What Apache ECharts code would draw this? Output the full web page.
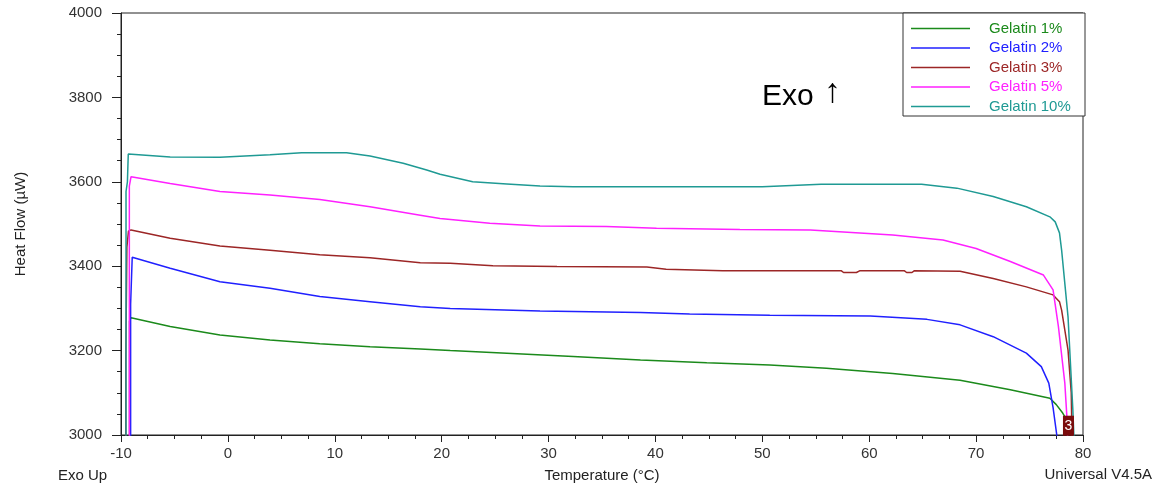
<!DOCTYPE html>
<html>
<head>
<meta charset="utf-8">
<title>Heat Flow vs Temperature</title>
<script src="https://cdn.jsdelivr.net/npm/echarts@6/dist/echarts.min.js"></script>
<style>
  html, body { margin: 0; padding: 0; background: #ffffff; }
  #chart { width: 1156px; height: 486px; }
</style>
</head>
<body>
<div id="chart"></div>
<script>
// DSC heat-flow traces for gelatin gels (temperature in °C, heat flow in µW)
const seriesNames = ['Gelatin 1%', 'Gelatin 2%', 'Gelatin 3%', 'Gelatin 5%', 'Gelatin 10%'];
const seriesColors = ['#1b8a1b', '#2020ff', '#9c2626', '#ff20ff', '#1f9a94'];

const tempGel1 = [-9.2, -9.2, -9.06, -5.4, -0.74, 3.94, 8.6, 13.3, 18.0, 20.8, 26.1, 32.3, 38.6, 44.8, 50.7, 56.0, 62.2, 68.5, 73.2, 76.9, 77.5, 78.1, 78.5, 78.7];
const flowGel1 = [2900, 3270, 3278, 3257, 3237, 3225, 3216, 3209, 3204, 3200, 3194, 3186, 3178, 3171, 3166, 3158, 3146, 3130, 3107, 3087, 3072, 3052, 3035, 2950];

const tempGel2 = [-9.1, -9.1, -8.95, -5.4, -0.74, 3.94, 8.6, 13.3, 18.0, 20.8, 29.2, 38.6, 43.2, 50.7, 60.1, 65.4, 68.5, 71.6, 74.7, 76.1, 76.8, 77.2, 77.6, 77.7];
const flowGel2 = [2900, 3310, 3421, 3395, 3363, 3348, 3328, 3316, 3304, 3300, 3294, 3290, 3287, 3284, 3282, 3274, 3261, 3233, 3194, 3162, 3123, 3065, 2990, 2950];

const tempGel3 = [-9.55, -9.55, -9.45, -9.3, -9.06, -5.4, -0.74, 3.94, 8.6, 13.3, 18.0, 20.8, 24.8, 30.8, 39.2, 41.0, 46.3, 50.0, 57.4, 57.6, 58.8, 59.1, 63.3, 63.5, 64.0, 64.2, 68.5, 71.6, 74.7, 77.2, 77.8, 78.0, 78.6, 78.9, 79.0];
const flowGel3 = [2900, 3180, 3445, 3483, 3486, 3466, 3448, 3438, 3427, 3420, 3408, 3407, 3401, 3399, 3398, 3393, 3389, 3389, 3389, 3385, 3385, 3389, 3389, 3385, 3385, 3389, 3388, 3371, 3351, 3332, 3316, 3296, 3201, 3100, 2950];

const tempGel5 = [-9.22, -9.22, -9.06, -5.4, -0.74, 3.94, 8.6, 13.3, 18.0, 19.85, 24.5, 29.2, 35.4, 40.1, 47.9, 54.5, 62.2, 66.9, 70.0, 73.2, 76.3, 77.2, 77.7, 78.3, 78.5, 78.6];
const flowGel5 = [2900, 3590, 3612, 3596, 3577, 3569, 3558, 3541, 3521, 3513, 3502, 3495, 3494, 3490, 3487, 3486, 3474, 3462, 3442, 3411, 3379, 3344, 3257, 3123, 3040, 2950];

const tempGel10 = [-9.53, -9.53, -9.4, -9.32, -5.4, -0.74, 3.94, 6.9, 11.1, 13.3, 16.4, 18.6, 19.85, 22.9, 26.1, 29.2, 32.3, 50.0, 55.5, 64.9, 68.2, 71.6, 74.7, 76.9, 77.4, 77.8, 78.0, 78.6, 79.05, 79.3];
const flowGel10 = [2900, 3577, 3600, 3666, 3659, 3658, 3664, 3669, 3669, 3661, 3644, 3628, 3618, 3600, 3595, 3590, 3588, 3588, 3594, 3594, 3585, 3565, 3541, 3517, 3505, 3479, 3438, 3280, 3060, 2900];

// Event marker "3" placed at the end of the 3% trace
const markerTemp = 78.64;
const markerFlow = 3022;
const markerText = '3';

const xTicks = { min: -10, max: 80, interval: 10 };
const yTicks = { min: 3000, max: 4000, interval: 200 };

const temps = [tempGel1, tempGel2, tempGel3, tempGel5, tempGel10];
const flows = [flowGel1, flowGel2, flowGel3, flowGel5, flowGel10];

const FONT = '"Liberation Sans", Arial, sans-serif';

const series = seriesNames.map((name, i) => {
  const s = {
    name: name,
    type: 'line',
    symbol: 'none',
    clip: true,
    smooth: false,
    data: temps[i].map((t, k) => [t, flows[i][k]]),
    lineStyle: { color: seriesColors[i], width: 1.5 },
    itemStyle: { color: seriesColors[i] },
    z: 2
  };
  if (name === 'Gelatin 3%') {
    s.markPoint = {
      silent: true,
      symbol: 'rect',
      symbolSize: [11, 20],
      itemStyle: { color: '#7a0c0c' },
      label: { show: true, formatter: markerText, color: '#ffffff', fontSize: 14, fontFamily: FONT },
      data: [{ coord: [markerTemp, markerFlow] }]
    };
  }
  return s;
});

const chart = echarts.init(document.getElementById('chart'), null, { renderer: 'canvas' });
chart.setOption({
  animation: false,
  backgroundColor: '#ffffff',
  grid: {
    left: 121, right: 73, top: 13, bottom: 51,
    containLabel: false,
    outerBoundsMode: 'none',
    show: true, borderColor: '#222', borderWidth: 1, backgroundColor: 'transparent'
  },
  xAxis: {
    type: 'value',
    min: xTicks.min, max: xTicks.max, interval: xTicks.interval,
    name: 'Temperature (°C)',
    nameLocation: 'middle',
    nameGap: 33,
    nameTextStyle: { fontSize: 15, color: '#222', fontFamily: FONT },
    axisLine: { show: true, onZero: false, lineStyle: { color: '#222', width: 1 } },
    axisTick: { show: true, inside: false, length: 7, lineStyle: { color: '#222' } },
    minorTick: { show: true, splitNumber: 4, length: 4, lineStyle: { color: '#222' } },
    axisLabel: { fontSize: 15, color: '#333', margin: 11, fontFamily: FONT },
    splitLine: { show: false }
  },
  yAxis: {
    type: 'value',
    min: yTicks.min, max: yTicks.max, interval: yTicks.interval,
    name: 'Heat Flow (µW)',
    nameLocation: 'middle',
    nameGap: 93,
    nameTextStyle: { fontSize: 15, color: '#222', fontFamily: FONT },
    axisLine: { show: true, onZero: false, lineStyle: { color: '#222', width: 1 } },
    axisTick: { show: true, inside: false, length: 9, lineStyle: { color: '#222' } },
    minorTick: { show: true, splitNumber: 4, length: 4, lineStyle: { color: '#222' } },
    axisLabel: { fontSize: 15, color: '#333', margin: 19, fontFamily: FONT, formatter: v => String(v) },
    splitLine: { show: false }
  },
  legend: {
    orient: 'vertical',
    left: 911,
    top: 21,
    padding: 0,
    icon: 'rect',
    itemWidth: 59,
    itemHeight: 1.5,
    itemGap: 4.5,
    selectedMode: false,
    textStyle: { fontSize: 15, fontFamily: FONT, padding: [0, 0, 0, 14] },
    data: seriesNames.map((n, i) => ({ name: n, textStyle: { color: seriesColors[i] } })),
    z: 5
  },
  graphic: [
    {
      type: 'rect', z: 4,
      shape: { x: 903, y: 13, width: 182, height: 103 },
      style: { fill: '#ffffff', stroke: '#333', lineWidth: 1 }
    },
    {
      type: 'text', left: 762, top: 82,
      style: { text: 'Exo', fill: '#000', font: '30px ' + FONT }
    },
    {
      type: 'text', left: 824, top: 76,
      style: { text: '\u2191', fill: '#000', font: '34px ' + FONT }
    },
    {
      type: 'text', left: 58, top: 468,
      style: { text: 'Exo Up', fill: '#222', font: '15px ' + FONT }
    },
    {
      type: 'text', right: 4, top: 467,
      style: { text: 'Universal V4.5A', fill: '#222', font: '15px ' + FONT }
    }
  ],
  series: series
});
</script>
</body>
</html>
